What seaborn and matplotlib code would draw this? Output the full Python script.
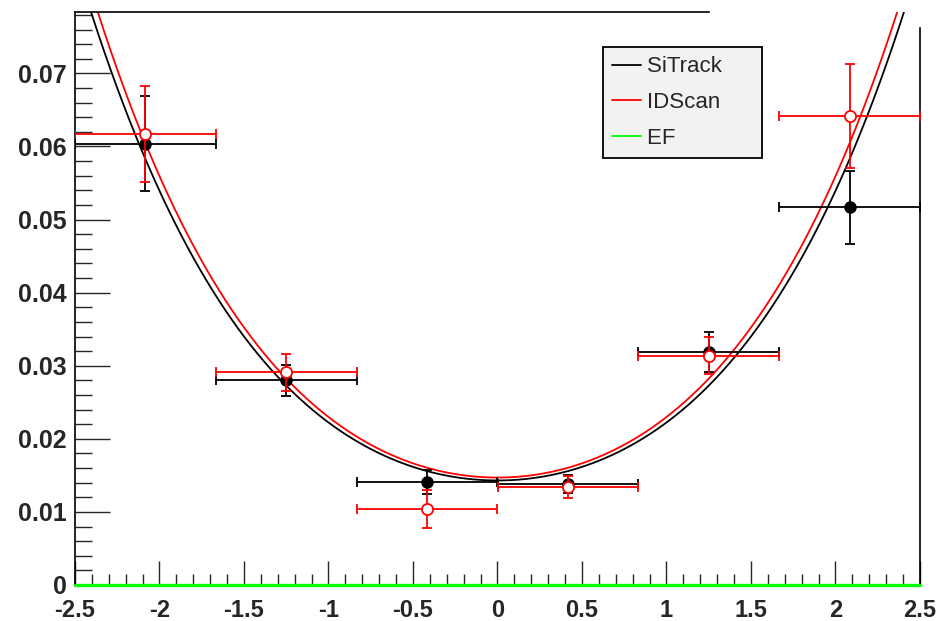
import numpy as np
import pandas as pd
import seaborn as sns
import matplotlib.pyplot as plt

# bin centres (6 eta bins from -2.5 to 2.5) and half widths
eta = [-2.083, -1.25, -0.417, 0.417, 1.25, 2.083]
eta_err = [0.4167] * 6

# SiTrack points
sitrack_y = [0.0604, 0.0280, 0.0141, 0.0138, 0.0319, 0.0517]
sitrack_err = [0.0065, 0.0021, 0.0017, 0.0012, 0.0027, 0.0050]

# IDScan points
idscan_y = [0.0617, 0.0291, 0.0104, 0.0134, 0.0314, 0.0642]
idscan_err = [0.0066, 0.0025, 0.0026, 0.0015, 0.0025, 0.0071]

# fit parameters p0 + p2*x^2 + p4*x^4
trackers = ["SiTrack", "IDScan", "EF"]
fit_p0 = [0.0143, 0.0147, 0.0]
fit_p2 = [0.00728, 0.00761, 0.0]
fit_p4 = [0.000657, 0.000675, 0.0]
colors = ["black", "red", "#00ff00"]

xticks = [-2.5, -2, -1.5, -1, -0.5, 0, 0.5, 1, 1.5, 2, 2.5]
xtick_labels = ["-2.5", "-2", "-1.5", "-1", "-0.5", "0", "0.5", "1", "1.5", "2", "2.5"]
yticks = [0, 0.01, 0.02, 0.03, 0.04, 0.05, 0.06, 0.07]
ytick_labels = ["0", "0.01", "0.02", "0.03", "0.04", "0.05", "0.06", "0.07"]

sns.set_style("white")
plt.rcParams['font.family'] = ['Liberation Sans', 'DejaVu Sans']

fig = plt.figure(figsize=(9.45, 6.21), dpi=100)
ax = fig.add_axes([75 / 945, 36 / 621, 845 / 945, 573 / 621])

xs = np.linspace(-2.5, 2.5, 400)
rows = []
for name, p0, p2, p4 in zip(trackers, fit_p0, fit_p2, fit_p4):
    for x in xs:
        rows.append({"eta": x, "res": p0 + p2 * x**2 + p4 * x**4, "tracker": name})
fits = pd.DataFrame(rows)

sns.lineplot(data=fits, x="eta", y="res", hue="tracker", hue_order=trackers,
             palette=dict(zip(trackers, colors)), linewidth=1.3, ax=ax)
# EF line sits on the axis, draw it over the spine
ax.lines[2].set_linewidth(2.4)
ax.lines[2].set_clip_on(False)
ax.lines[2].set_zorder(6)

ax.errorbar(eta, sitrack_y, xerr=eta_err, yerr=sitrack_err, fmt="o", color="black",
            ms=8, elinewidth=1.3, capsize=3.5, capthick=1.3, zorder=4)
ax.errorbar(eta, idscan_y, xerr=eta_err, yerr=idscan_err, fmt="o", color="red",
            mfc="white", mec="red", mew=1.3, ms=8, elinewidth=1.3, capsize=3.5,
            capthick=1.3, zorder=5)

ax.set_xlim(-2.5, 2.5)
ax.set_ylim(0, 0.0784)
ax.set_xlabel("")
ax.set_ylabel("")

ax.set_xticks(xticks)
ax.set_xticklabels(xtick_labels, fontsize=17, fontweight="bold",
                   family=['Liberation Sans Narrow', 'Liberation Sans'])
ax.set_xticks(np.arange(-2.5, 2.51, 0.1), minor=True)
ax.set_yticks(yticks)
ax.set_yticklabels(ytick_labels, fontsize=18, fontweight="bold")
ax.set_yticks(np.arange(0, 0.0785, 0.002), minor=True)
ax.tick_params(axis="x", which="major", direction="in", length=17, width=1, pad=10, bottom=True)
ax.tick_params(axis="x", which="minor", direction="in", length=8, width=1, bottom=True)
ax.tick_params(axis="y", which="major", direction="in", length=25, width=1, pad=6, left=True)
ax.tick_params(axis="y", which="minor", direction="in", length=12, width=1, left=True)

for s in ax.spines.values():
    s.set_color("black")
    s.set_linewidth(1.2)
ax.spines["top"].set_bounds(-2.5, 1.25)
ax.spines["right"].set_bounds(0, 0.0762)

handles, labels = ax.get_legend_handles_labels()
labels = [lab + "     " for lab in labels]
leg = ax.legend(handles, labels, loc="upper left", bbox_to_anchor=(603 / 945, 1 - 47 / 621),
                bbox_transform=fig.transFigure, fontsize=16, frameon=True,
                fancybox=False, edgecolor="black", facecolor="#f2f2f2",
                framealpha=1, borderaxespad=0, borderpad=0.42, labelspacing=0.66,
                handlelength=1.3, handletextpad=0.25)
leg.get_frame().set_linewidth(1.3)
for line in leg.get_lines():
    line.set_linewidth(1.3)

fig.savefig("out.png", dpi=100)
